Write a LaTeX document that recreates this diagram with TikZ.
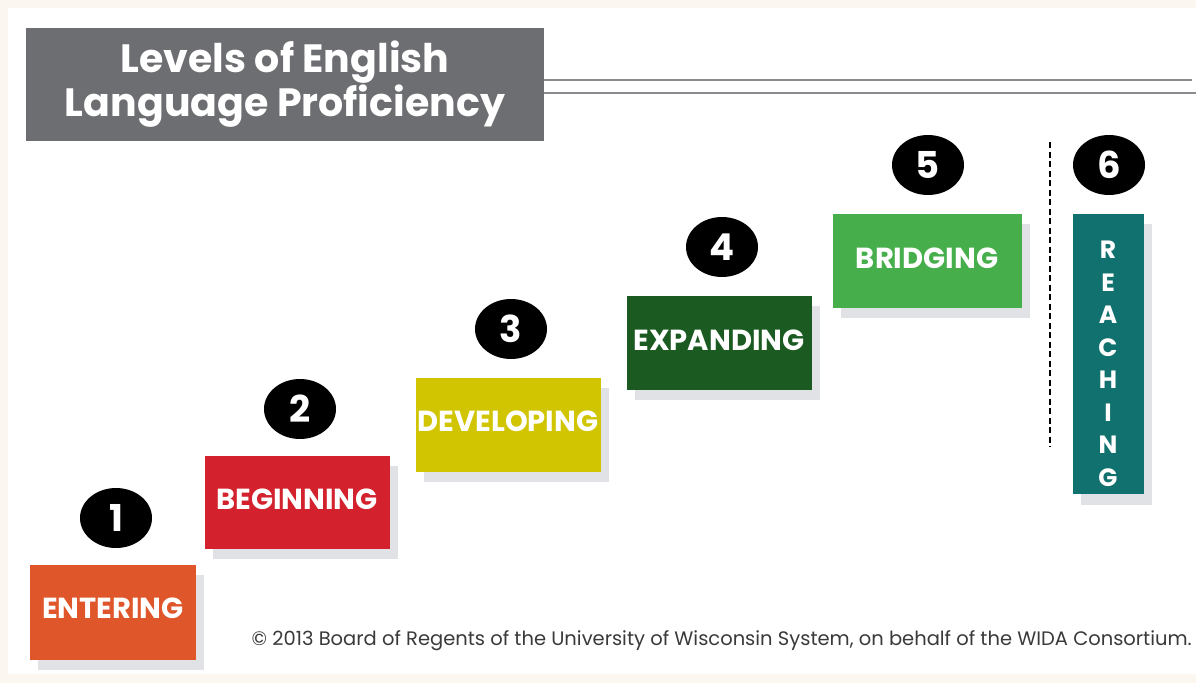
\documentclass[tikz,border=0pt]{standalone}
\usepackage{fontspec}
\setmainfont{Poppins}
\usetikzlibrary{shapes.geometric}
\definecolor{cream}{HTML}{FBF6F0}
\definecolor{titlegray}{HTML}{6D6E71}
\definecolor{rulegray}{HTML}{8A8B8E}
\definecolor{shadowgray}{HTML}{E1E2E5}
\definecolor{cEnter}{HTML}{E0562B}
\definecolor{cBegin}{HTML}{D3222D}
\definecolor{cDevel}{HTML}{D0C500}
\definecolor{cExpand}{HTML}{1B5A21}
\definecolor{cBridge}{HTML}{46AE4B}
\definecolor{cReach}{HTML}{11716E}
\definecolor{copytext}{HTML}{3A3A3A}
\tikzset{
  levelbox/.style={rectangle, inner sep=0pt, minimum width=#1, text=white, font=\bfseries\fontsize{29}{32}\selectfont},
  lvlshadow/.style={fill=shadowgray, draw=none},
  numdisc/.style={ellipse, fill=black, inner sep=0pt, minimum width=72pt, minimum height=60pt, text=white, font=\bfseries\fontsize{37}{40}\selectfont},
}
\begin{document}
\begin{tikzpicture}[x=1pt,y=-1pt]
\useasboundingbox (0,0) rectangle (1196,683);
\fill[cream] (0,0) rectangle (1196,683);
\fill[white] (8,8) rectangle (1196,674);
% title
\fill[titlegray] (26,28) rectangle (544,141);
\node[text=white, align=center, font=\bfseries\fontsize{39.5}{44}\selectfont] (title) at (285,84) {Levels of English\\Language Proficiency};
\coordinate (r1a) at (544,80);
\coordinate (r1b) at (1192,80);
\coordinate (r2a) at (544,93);
\coordinate (r2b) at (1196,93);
\draw[rulegray, line width=1.8pt] (r1a) -- (r1b);
\draw[rulegray, line width=1.8pt] (r2a) -- (r2b);
% shadows
\fill[lvlshadow] (38,575) rectangle (204,670);
\fill[lvlshadow] (213,466) rectangle (398,559);
\fill[lvlshadow] (424,388) rectangle (609,482);
\fill[lvlshadow] (635,306) rectangle (820,400);
\fill[lvlshadow] (841,224) rectangle (1030,318);
\fill[lvlshadow] (1081,224) rectangle (1152,505);
% boxes
\fill[cEnter] (30,565) rectangle (196,660);
\fill[cBegin] (205,456) rectangle (390,549);
\fill[cDevel] (416,378) rectangle (601,472);
\fill[cExpand] (627,296) rectangle (812,390);
\fill[cBridge] (833,214) rectangle (1022,308);
\fill[cReach] (1073,214) rectangle (1144,494);
\node[levelbox=166pt] (b1) at (113,608) {ENTERING};
\node[levelbox=185pt] (b2) at (297,499) {BEGINNING};
\node[levelbox=185pt] (b3) at (508,421) {DEVELOPING};
\node[levelbox=185pt] (b4) at (719,340) {EXPANDING};
\node[levelbox=189pt] (b5) at (927,258) {BRIDGING};
\node[text=white, align=center, font=\bfseries\fontsize{25}{32.5}\selectfont] (b6) at (1108,364) {R\\E\\A\\C\\H\\I\\N\\G};
% number discs
\node[numdisc] (n1) at (116,518) {1};
\node[numdisc] (n2) at (300,409) {2};
\node[numdisc] (n3) at (511,329) {3};
\node[numdisc] (n4) at (722,247) {4};
\node[numdisc] (n5) at (928,165) {5};
\node[numdisc] (n6) at (1109,165) {6};
% dashed divider
\coordinate (d1) at (1050,142);
\coordinate (d2) at (1050,447);
\draw[black, line width=2.2pt, dash pattern=on 6pt off 3.5pt] (d1) -- (d2);
% copyright
\node[anchor=east, text=copytext, font=\fontsize{19.5}{22}\selectfont, inner sep=0pt] (copy) at (1192,641) {© 2013 Board of Regents of the University of Wisconsin System, on behalf of the WIDA Consortium.};
\end{tikzpicture}
\end{document}
